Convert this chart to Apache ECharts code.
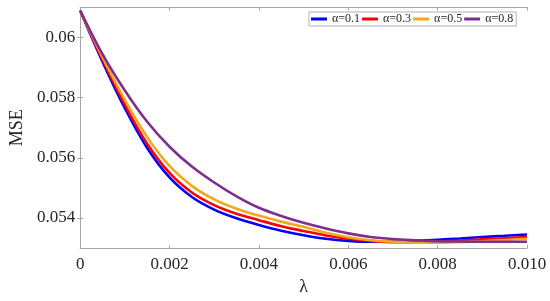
<!DOCTYPE html>
<html>
<head>
<meta charset="utf-8">
<script src="https://cdn.jsdelivr.net/npm/echarts@6/dist/echarts.min.js"></script>
<style>
  html, body { margin: 0; padding: 0; background: #fff; }
  #chart { width: 550px; height: 301px; }
</style>
</head>
<body>
<div id="chart"></div>
<script>
const lambdas = [0, 0.0005, 0.001, 0.0015, 0.002, 0.0025, 0.003, 0.0035, 0.004, 0.0045, 0.005,
  0.0055, 0.006, 0.0065, 0.007, 0.0075, 0.008, 0.0085, 0.009, 0.0095, 0.01];

const seriesNames = ['α=0.1', 'α=0.3', 'α=0.5', 'α=0.8'];

const mseA01 = [0.0609, 0.05920, 0.05765, 0.05633, 0.05535, 0.05470, 0.05428, 0.05399, 0.05377, 0.05358, 0.05343,
  0.05331, 0.05324, 0.05321, 0.05321, 0.05324, 0.05328, 0.05332, 0.05337, 0.05341, 0.05345];
const mseA03 = [0.0609, 0.05927, 0.05777, 0.05647, 0.05550, 0.05485, 0.05443, 0.05414, 0.05393, 0.05373, 0.05357,
  0.05342, 0.05331, 0.05324, 0.05320, 0.05320, 0.05322, 0.05325, 0.05329, 0.05333, 0.05337];
const mseA05 = [0.0609, 0.05935, 0.05793, 0.05669, 0.05573, 0.05507, 0.05462, 0.05431, 0.05408, 0.05388, 0.05371,
  0.05351, 0.05336, 0.05326, 0.05321, 0.05318, 0.05318, 0.05320, 0.05323, 0.05327, 0.05331];
const mseA08 = [0.0609, 0.05945, 0.05824, 0.05720, 0.05637, 0.05571, 0.05518, 0.05472, 0.05434, 0.05407, 0.05384,
  0.05365, 0.05349, 0.05337, 0.05330, 0.05326, 0.05323, 0.05322, 0.05321, 0.05321, 0.05321];

const yTicks = [0.054, 0.056, 0.058, 0.06];

const colors = ['#0000FF', '#FF0000', '#F2A81D', '#7E2F8E'];
const allSeries = [mseA01, mseA03, mseA05, mseA08];

const chart = echarts.init(document.getElementById('chart'));

const axisGray = '#A6A6A6';
const textColor = '#262626';
const font = '"Liberation Serif", "Times New Roman", serif';

const option = {
  backgroundColor: '#fff',
  animation: false,
  color: colors,
  grid: { left: 68.5, right: 23, top: 7.5, bottom: 51, containLabel: false },
  legend: {
    left: 309,
    top: 12,
    padding: [1, 3, 1, 2],
    itemGap: 2,
    itemWidth: 16,
    itemHeight: 3,
    icon: 'rect',
    borderColor: '#B0B0B0',
    borderWidth: 1,
    backgroundColor: '#fff',
    textStyle: { fontFamily: font, fontSize: 12, color: textColor },
    data: seriesNames
  },
  xAxis: [
    {
      type: 'value',
      min: 0,
      max: 0.01,
      interval: 0.002,
      name: 'λ',
      nameLocation: 'middle',
      nameGap: 29,
      nameTextStyle: { fontFamily: font, fontSize: 18, color: textColor },
      axisLine: { show: true, lineStyle: { color: axisGray, width: 1 } },
      axisTick: { show: true, inside: true, length: 3, lineStyle: { color: axisGray } },
      axisLabel: {
        fontFamily: font, fontSize: 17, color: textColor, margin: 8,
        formatter: v => (v === 0 ? '0' : v.toFixed(3))
      },
      splitLine: { show: false }
    },
    {
      type: 'value',
      position: 'top',
      min: 0,
      max: 0.01,
      interval: 0.002,
      axisLine: { show: true, lineStyle: { color: axisGray, width: 1 } },
      axisTick: { show: true, inside: true, length: 3, lineStyle: { color: axisGray } },
      axisLabel: { show: false },
      splitLine: { show: false }
    }
  ],
  yAxis: [
    {
      type: 'value',
      min: 0.053,
      max: 0.061,
      name: 'MSE',
      nameLocation: 'middle',
      nameGap: 49,
      nameTextStyle: { fontFamily: font, fontSize: 18, color: textColor },
      axisLine: { show: true, lineStyle: { color: axisGray, width: 1 } },
      axisTick: { show: true, inside: true, length: 3, customValues: yTicks, lineStyle: { color: axisGray } },
      axisLabel: {
        fontFamily: font, fontSize: 17, color: textColor, margin: 5,
        customValues: yTicks,
        formatter: v => String(+v.toFixed(3))
      },
      splitLine: { show: false }
    },
    {
      type: 'value',
      position: 'right',
      min: 0.053,
      max: 0.061,
      axisLine: { show: true, lineStyle: { color: axisGray, width: 1 } },
      axisTick: { show: true, inside: true, length: 3, customValues: yTicks, lineStyle: { color: axisGray } },
      axisLabel: { show: false },
      splitLine: { show: false }
    }
  ],
  series: seriesNames.map((name, i) => ({
    name: name,
    type: 'line',
    xAxisIndex: 0,
    yAxisIndex: 0,
    smooth: 0.35,
    showSymbol: false,
    lineStyle: { width: 2.6, color: colors[i] },
    itemStyle: { color: colors[i] },
    z: 2 + i,
    data: lambdas.map((x, j) => [x, allSeries[i][j]])
  }))
};

chart.setOption(option);
</script>
</body>
</html>
